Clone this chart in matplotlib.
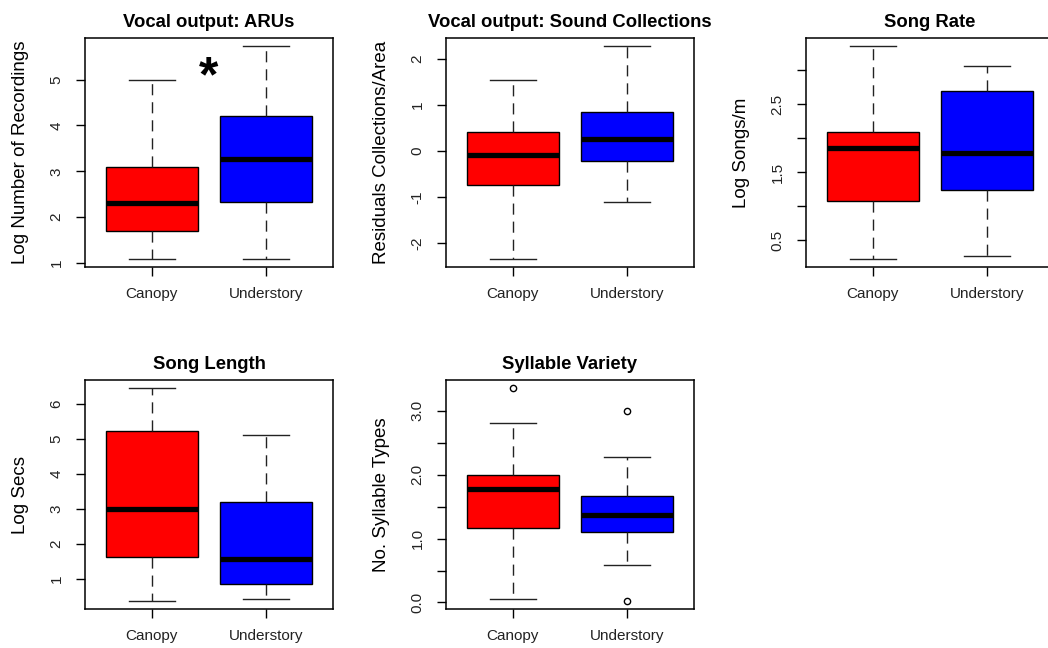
import matplotlib
matplotlib.use("Agg")
import matplotlib.pyplot as plt

plt.rcParams['font.family'] = ['Liberation Sans', 'DejaVu Sans']

groups = ["Canopy", "Understory"]
colors = ["#FF0000", "#0000FF"]

titles = ["Vocal output: ARUs", "Vocal output: Sound Collections", "Song Rate",
          "Song Length", "Syllable Variety"]
ylabels = ["Log Number of Recordings", "Residuals Collections/Area", "Log Songs/m",
           "Log Secs", "No. Syllable Types"]

# five-number summaries: (whislo, q1, med, q3, whishi)
aru_stats = [(1.10, 1.71, 2.31, 3.09, 5.00), (1.10, 2.33, 3.26, 4.20, 5.72)]
coll_stats = [(-2.33, -0.73, -0.09, 0.42, 1.55), (-1.10, -0.21, 0.27, 0.84, 2.27)]
rate_stats = [(0.23, 1.07, 1.85, 2.09, 3.35), (0.27, 1.24, 1.78, 2.70, 3.06)]
length_stats = [(0.38, 1.62, 3.01, 5.22, 6.45), (0.41, 0.84, 1.57, 3.19, 5.13)]
syll_stats = [(0.05, 1.16, 1.78, 2.00, 2.81), (0.58, 1.10, 1.37, 1.67, 2.28)]
syll_fliers = [[3.35], [3.00, 0.03]]

all_stats = [aru_stats, coll_stats, rate_stats, length_stats, syll_stats]
all_fliers = [[[], []], [[], []], [[], []], [[], []], syll_fliers]

yticks = [[1, 2, 3, 4, 5],
          [-2, -1, 0, 1, 2],
          [0.5, 1.0, 1.5, 2.0, 2.5, 3.0],
          [1, 2, 3, 4, 5, 6],
          [0.0, 0.5, 1.0, 1.5, 2.0, 2.5, 3.0]]
yticklabels = [["1", "2", "3", "4", "5"],
               ["-2", "-1", "0", "1", "2"],
               ["0.5", "", "1.5", "", "2.5", ""],
               ["1", "2", "3", "4", "5", "6"],
               ["0.0", "", "1.0", "", "2.0", "", "3.0"]]

W, H = 1048, 648
fig = plt.figure(figsize=(W / 100, H / 100), dpi=100)

# panel frames in pixels: (left, top)
frames = [(85, 38), (446, 38), (806, 38), (85, 380), (446, 380)]
pw, ph = 248, 229

for i in range(5):
    left, top = frames[i]
    ax = fig.add_axes([left / W, 1 - (top + ph) / H, pw / W, ph / H])
    bstats = []
    for j, (lo, q1, med, q3, hi) in enumerate(all_stats[i]):
        bstats.append(dict(whislo=lo, q1=q1, med=med, q3=q3, whishi=hi,
                           fliers=all_fliers[i][j], label=groups[j]))
    bp = ax.bxp(bstats, positions=[1, 2], widths=0.8, capwidths=0.4,
                patch_artist=True,
                boxprops=dict(edgecolor="black", linewidth=1.0),
                medianprops=dict(color="black", linewidth=3.8, solid_capstyle="butt"),
                whiskerprops=dict(color="#222222", linewidth=1.0, linestyle=(0, (8, 5))),
                capprops=dict(color="#222222", linewidth=1.0),
                flierprops=dict(marker="o", markersize=4.5, markerfacecolor="none",
                                markeredgecolor="black", markeredgewidth=1.0))
    for patch, c in zip(bp["boxes"], colors):
        patch.set_facecolor(c)

    lo = min(min(s[0] for s in all_stats[i]), min([f for fl in all_fliers[i] for f in fl] or [99]))
    hi = max(max(s[4] for s in all_stats[i]), max([f for fl in all_fliers[i] for f in fl] or [-99]))
    pad = (hi - lo) * 0.04
    ax.set_ylim(lo - pad, hi + pad)
    ax.set_xlim(0.42, 2.58)

    ax.set_yticks(yticks[i])
    ax.set_yticklabels(yticklabels[i], rotation=90, va="center")
    ax.set_xticks([1, 2])
    ax.set_xticklabels(groups)
    ax.tick_params(axis="both", labelsize=11, length=6.5, width=1.0, direction="out",
                   labelcolor="#222222")
    ax.tick_params(axis="y", pad=9)
    ax.tick_params(axis="x", pad=8)
    for sp in ax.spines.values():
        sp.set_linewidth(1.1)

    ax.set_title(titles[i], fontsize=13.3, fontweight="bold", pad=8)
    ax.set_ylabel(ylabels[i], fontsize=13.5)
    ax.yaxis.set_label_coords(-0.225, 0.5)

    if i == 0:
        ax.text(1.5, 4.75, "*", fontsize=36, fontweight="bold", ha="center", va="baseline")

fig.savefig("out.png", dpi=100)
